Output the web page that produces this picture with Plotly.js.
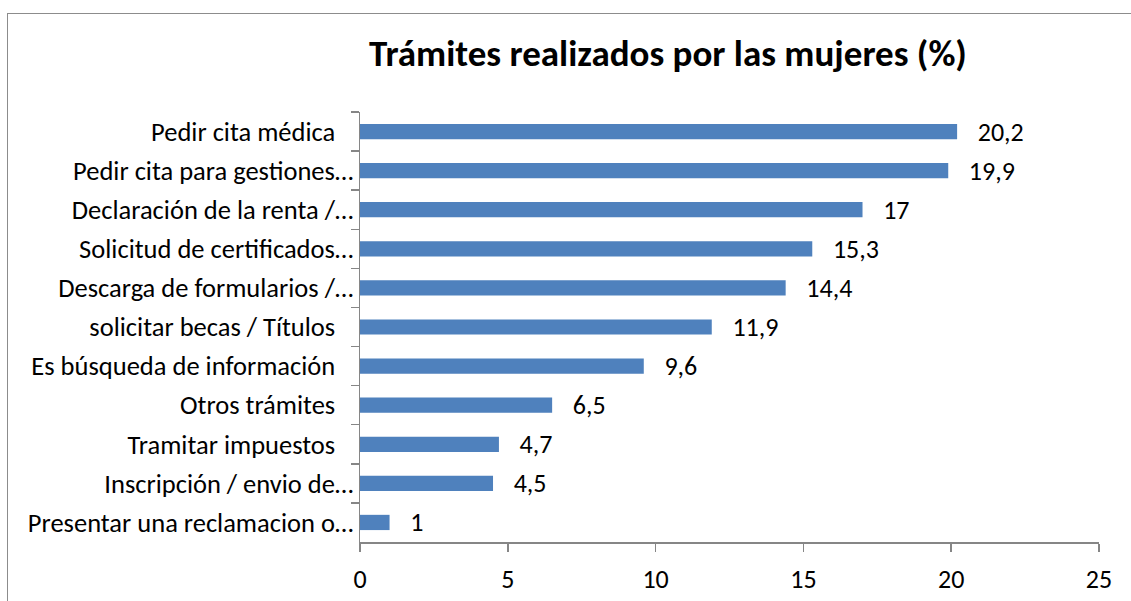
<!DOCTYPE html>
<html>
<head>
<meta charset="utf-8">
<script src="https://cdn.plot.ly/plotly-3.0.1.min.js"></script>
<style>
  html, body { margin: 0; padding: 0; background: #fff; overflow: hidden; }
  #chart { width: 1131px; height: 601px; position: relative; }
  #frame { position: absolute; left: 7px; top: 13px; width: 3000px; height: 3000px;
           border-left: 1.5px solid #8c8c8c; border-top: 1.5px solid #8c8c8c; pointer-events: none; }
</style>
</head>
<body>
<div id="chart"></div>
<div id="frame"></div>
<script>
const categories = [
  "Pedir cita médica",
  "Pedir cita para gestiones…",
  "Declaración de la renta /…",
  "Solicitud de certificados…",
  "Descarga de formularios /…",
  "solicitar becas / Títulos",
  "Es búsqueda de información",
  "Otros trámites",
  "Tramitar impuestos",
  "Inscripción / envio de…",
  "Presentar una reclamacion o…"
];
const trailingSpace = [true, false, false, false, false, true, true, true, true, false, false];
const values = [20.2, 19.9, 17, 15.3, 14.4, 11.9, 9.6, 6.5, 4.7, 4.5, 1];
const xTicks = [0, 5, 10, 15, 20, 25];
const titleText = "Trámites realizados por las mujeres (%)";

const PAD = "\u00a0\u00a0\u00a0\u200b";
const yLabels = categories.map((c, i) => trailingSpace[i] ? c + PAD : c);
const labels = values.map(v => String(v).replace('.', ','));
const FONT = "Calibri, Carlito, Lato, sans-serif";

const trace = {
  type: 'bar',
  orientation: 'h',
  x: values,
  y: yLabels,
  text: labels,
  texttemplate: '\u200b\u00a0\u00a0\u00a0%{text}',
  textposition: 'outside',
  constraintext: 'none',
  cliponaxis: false,
  textfont: { family: FONT, size: 26, color: '#000' },
  marker: { color: '#4F81BD', line: { width: 0 } },
  hoverinfo: 'skip'
};

const layout = {
  width: 1131, height: 601,
  margin: { l: 360, r: 32, t: 112, b: 59, pad: 0 },
  paper_bgcolor: '#fff', plot_bgcolor: '#fff',
  bargap: 0.61,
  showlegend: false,
  font: { family: FONT, size: 26, color: '#000' },
  title: {
    text: '<b>' + titleText + '</b>',
    font: { family: FONT, size: 37, color: '#000' },
    xref: 'container', x: 668 / 1131, xanchor: 'center',
    yref: 'container', y: 1 - 53 / 601, yanchor: 'middle'
  },
  xaxis: {
    range: [0, 25],
    tickvals: xTicks,
    ticktext: xTicks.map(String),
    showgrid: false, zeroline: false,
    showline: true, linecolor: '#868686', linewidth: 1.5,
    ticks: 'outside', ticklen: 8, tickwidth: 1.5, tickcolor: '#868686',
    ticklabelstandoff: 5,
    tickfont: { family: FONT, size: 26, color: '#000' },
    fixedrange: true
  },
  yaxis: {
    autorange: 'reversed',
    type: 'category',
    showgrid: false, zeroline: false,
    showline: true, linecolor: '#868686', linewidth: 1.5,
    ticks: 'outside', ticklen: 8, tickwidth: 1.5, tickcolor: '#868686',
    tickson: 'boundaries',
    tickfont: { family: FONT, size: 26.5, color: '#000' },
    fixedrange: true
  }
};

Plotly.newPlot('chart', [trace], layout, { displayModeBar: false, staticPlot: true });
</script>
</body>
</html>
